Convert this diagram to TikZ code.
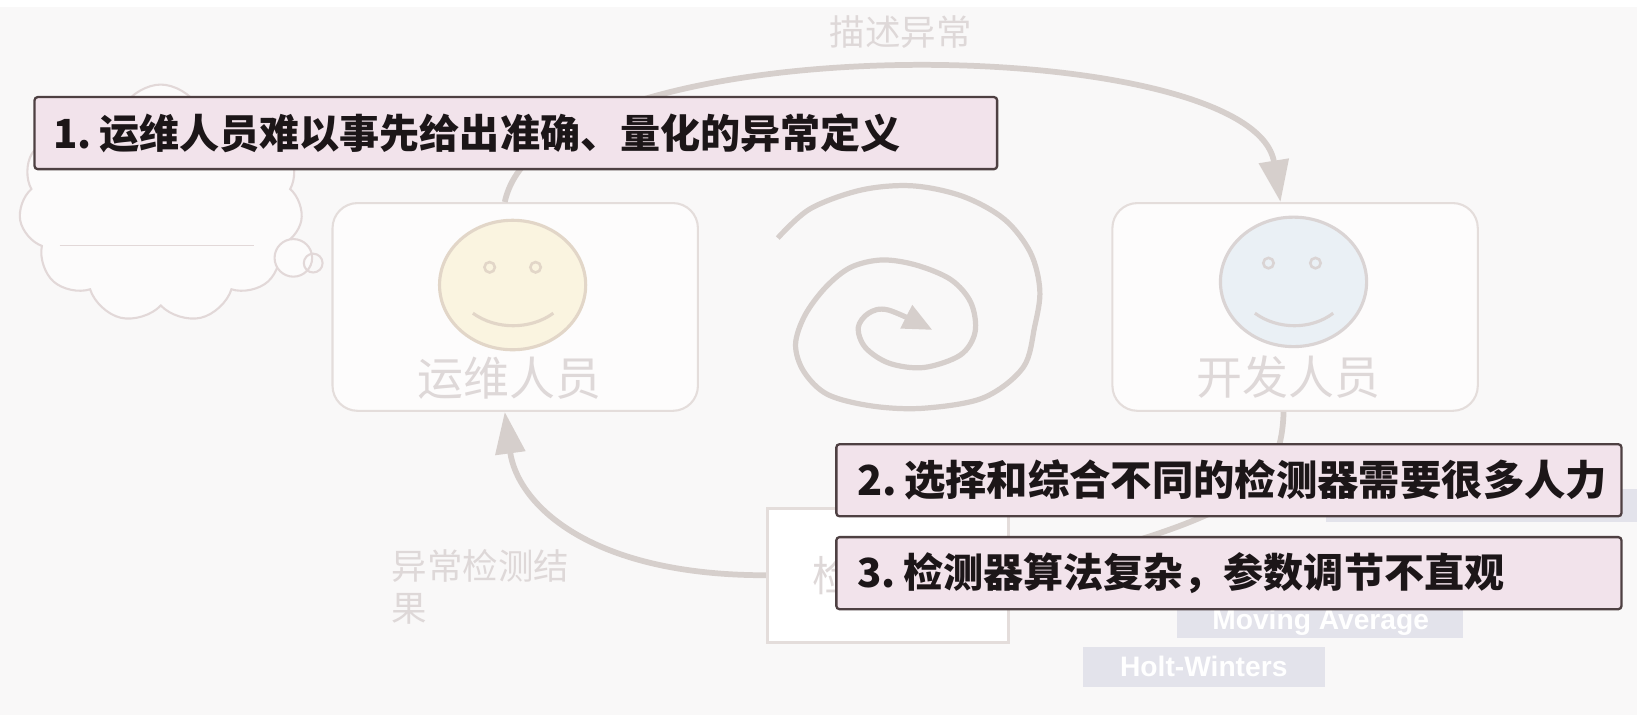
\documentclass[tikz,border=0pt]{standalone}
\usepackage{fontspec}
\newfontfamily\cjk{Noto Sans CJK SC}
\setsansfont{Liberation Sans}
\usetikzlibrary{arrows.meta,shapes.geometric,shapes.symbols}

\definecolor{bg}{RGB}{249,248,248}
\definecolor{faint}{RGB}{214,207,204}
\definecolor{boxline}{RGB}{228,221,219}
\definecolor{fainttext}{RGB}{222,216,216}
\definecolor{probfill}{RGB}{242,227,235}
\definecolor{probline}{RGB}{78,64,66}
\definecolor{probtext}{RGB}{28,22,24}
\definecolor{facey}{RGB}{250,244,224}
\definecolor{faceyline}{RGB}{226,214,200}
\definecolor{faceb}{RGB}{234,240,245}
\definecolor{facebline}{RGB}{218,212,212}
\definecolor{tagfill}{RGB}{227,227,235}
\definecolor{cloudline}{RGB}{226,216,216}

\begin{document}
\begin{tikzpicture}[x=1pt,y=-1pt,
  flow/.style={draw=faint, line width=5.5pt},
  bigtip/.style={-{Triangle[width=28pt,length=40pt]}},
  person/.style={draw=boxline, line width=2pt, fill=white!60!bg, rounded corners=24pt,
    minimum width=350pt, minimum height=199pt, inner sep=0pt},
  face/.style={ellipse, line width=3pt, minimum width=140pt, minimum height=124pt, inner sep=0pt},
  eye/.style={line width=2.5pt},
  ghost/.style={text=fainttext, font=\cjk\fontsize{34}{40}\selectfont, inner sep=0pt},
  probbox/.style={draw=probline, fill=probfill, line width=2.2pt, rounded corners=3pt,
    text=probtext, font=\cjk\bfseries\fontsize{38.4}{42}\selectfont, align=left,
    inner xsep=18pt, inner ysep=0pt, minimum height=69pt, anchor=west},
  tag/.style={fill=tagfill, inner sep=0pt},
  tagtext/.style={text=white, font=\sffamily\bfseries\fontsize{27}{30}\selectfont, inner sep=0pt}
]
\useasboundingbox (0,0) rectangle (1568,685);
\fill[bg] (0,0) rectangle (1568,685);
\fill[white] (0,0) rectangle (1568,7);

% thought cloud with its two small bubbles
\node[cloud, cloud puffs=11, cloud puff arc=120, aspect=1.2, draw=cloudline, fill=white!50!bg,
  line width=2pt, minimum width=272pt, minimum height=228pt] (thought) at (154,195) {};
\draw[cloudline, line width=1.5pt] (57,235) -- (243,235);
\node[circle, draw=cloudline, fill=white!50!bg, line width=2pt, minimum size=36pt, inner sep=0pt] (bub1) at (281,247) {};
\node[circle, draw=cloudline, line width=2pt, minimum size=18pt, inner sep=0pt] (bub2) at (300,252) {};

% the two people
\node[person] (ops) at (493.5,294) {};
\node[person] (dev) at (1240.5,294) {};

\node[face, draw=faceyline, fill=facey] (opsface) at (491,273) {};
\draw[faceyline, eye] (469,256) circle (5pt) (513,256) circle (5pt);
\draw[faceyline, line width=3pt] (453,300) .. controls (475,316) and (508,316) .. (530,300);

\node[face, draw=facebline, fill=faceb] (devface) at (1239,270) {};
\draw[facebline, eye] (1215,252) circle (5pt) (1260,252) circle (5pt);
\draw[facebline, line width=3pt] (1202,300) .. controls (1224,316) and (1256,316) .. (1277,300);

\node[ghost, font=\cjk\fontsize{44}{48}\selectfont] (opsname) at (488,362) {运维人员};
\node[ghost, font=\cjk\fontsize{44}{48}\selectfont] (devname) at (1234,361) {开发人员};

% detector block
\node[draw=boxline, line width=3pt, fill=white, minimum width=231pt, minimum height=128pt, inner sep=0pt] (detector) at (850.5,551) {};
\node[ghost, font=\cjk\fontsize{40}{44}\selectfont, anchor=west] (detname) at (778,551) {检};

% labels of the loop
\node[ghost] (describe) at (863,31) {描述异常};
\node[ghost, align=left, anchor=north west] (result) at (375,526) {异常检测结\\果};

% loop connectors
\draw[flow, bigtip] ([xshift=-10pt]ops.north) .. controls (520,20) and (1200,30) .. ([xshift=-14pt]dev.north);
\draw[flow, bigtip] (detector.west) .. controls (560,551) and (495,480) .. ([xshift=-10pt]ops.south);
\draw[flow] ([xshift=-11pt]dev.south) .. controls (1227,470) and (1190,495) .. (detector.east);

% spiral in the middle
\draw[flow, line width=5pt, -{Triangle[width=24pt,length=28pt]}]
  plot[smooth, tension=0.55] coordinates {
  (745,228) (776,200) (825,182) (874,178) (922,188) (962,210) (987,242) (996,278)
  (991,313) (980,352) (942,381) (885,391) (836,389) (793,378) (770,356) (762,330)
  (771,302) (791,275) (815,256) (845,249) (878,254) (911,268) (930,290) (934,318)
  (920,340) (885,352) (852,348) (829,333) (822,314) (832,300) (851,297) (893,316)};

% detector name tags
\node[tag, minimum width=298pt, minimum height=32pt, anchor=north west] (tagtop) at (1270,468) {};
\node[tag, minimum width=274pt, minimum height=42pt] (movavg) at (1264,590) {};
\node[tagtext] (movavgtext) at (1265,596) {Moving Average};
\node[tag, minimum width=232pt, minimum height=38pt] (holt) at (1153,639) {};
\node[tagtext] (holttext) at (1153,638) {Holt-Winters};

% problem call-outs
\node[probbox, text width=886pt] (p1) at (32,127.5) {1.\hspace{7pt}运维人员难以事先给出准确、量化的异常定义};
\node[probbox, inner xsep=20pt, text width=712pt, font=\cjk\bfseries\fontsize{39.6}{42}\selectfont] (p2) at (800,460) {2.\hspace{7pt}选择和综合不同的检测器需要很多人力};
\node[probbox, inner xsep=20pt, text width=712pt] (p3) at (800,549) {3.\hspace{7pt}检测器算法复杂，参数调节不直观};
\end{tikzpicture}
\end{document}
